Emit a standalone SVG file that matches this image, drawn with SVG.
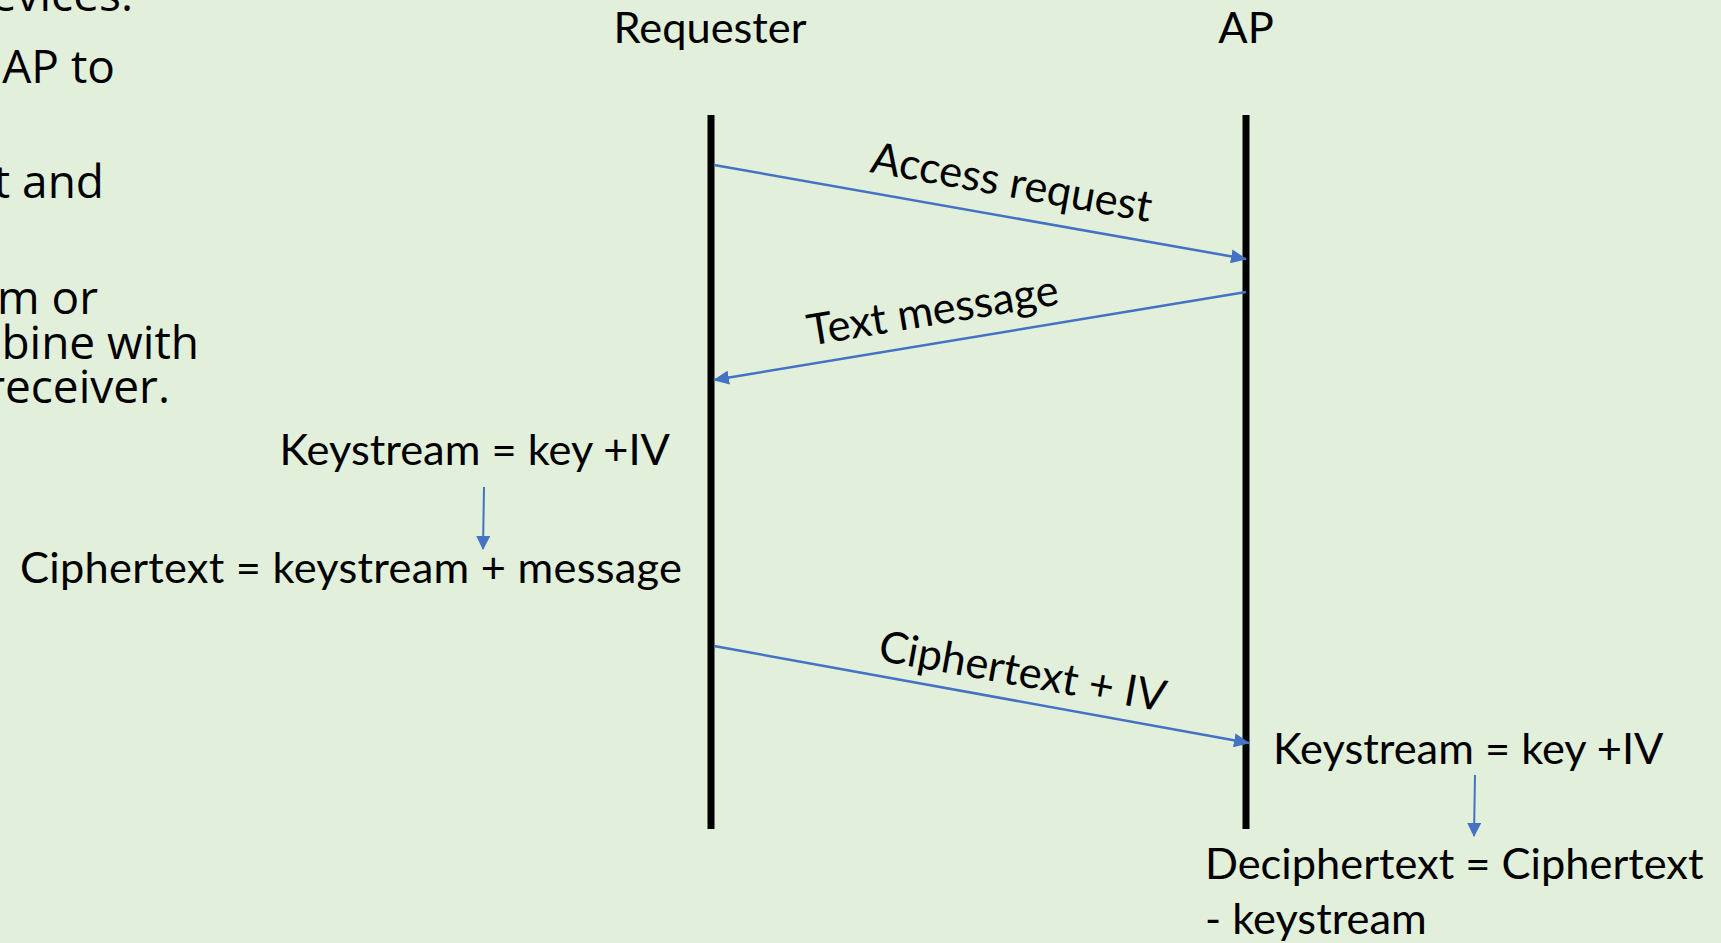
<svg xmlns="http://www.w3.org/2000/svg" width="1721" height="943" viewBox="0 0 1721 943">
  <defs>
    <marker id="arrow" markerUnits="userSpaceOnUse" markerWidth="16" markerHeight="14" viewBox="0 0 16 14" refX="15" refY="7" orient="auto">
      <path d="M0,0 L16,7 L0,14 Z" fill="#4472C4"/>
    </marker>
    <marker id="arrow-sm" markerUnits="userSpaceOnUse" markerWidth="14" markerHeight="14" viewBox="0 0 14 14" refX="13" refY="7" orient="auto">
      <path d="M0,0 L14,7 L0,14 Z" fill="#4472C4"/>
    </marker>
  </defs>
  <style>
    .bg { fill: #E2EFDA; }
    .side { font-family: "Open Sans", "Noto Sans", sans-serif; font-size: 46px; fill: #000; }
    .lbl { font-family: Lato, "Liberation Sans", sans-serif; font-size: 43.4px; fill: #000; }
    .life { stroke: #000; stroke-width: 7; }
    .msg { stroke: #4472C4; stroke-width: 2.5; fill: none; }
    .step { stroke: #4472C4; stroke-width: 2; fill: none; }
  </style>

  <rect class="bg" x="0" y="0" width="1721" height="943"/>

  <!-- bullet text running in from the left edge -->
  <g id="side-text" class="side" text-anchor="end">
    <text x="133" y="11">evices.</text>
    <text x="115" y="83">AP to</text>
    <text x="104" y="198">t and</text>
    <text x="98" y="314">m or</text>
    <text x="199" y="359">bine with</text>
    <text x="170" y="403">receiver.</text>
  </g>

  <!-- participants -->
  <g id="requester">
    <text class="lbl" x="710" y="43" text-anchor="middle">Requester</text>
    <line class="life" x1="711" y1="115" x2="711" y2="829"/>
  </g>
  <g id="ap">
    <text class="lbl" x="1246" y="43" text-anchor="middle">AP</text>
    <line class="life" x1="1246" y1="115" x2="1246" y2="829"/>
  </g>

  <!-- local computations -->
  <g id="sender-keystream">
    <text class="lbl" x="670" y="465" text-anchor="end">Keystream = key +IV</text>
  </g>
  <g id="sender-ciphertext">
    <text class="lbl" x="20" y="583" textLength="662" lengthAdjust="spacing">Ciphertext = keystream + message</text>
  </g>
  <g id="receiver-keystream">
    <text class="lbl" x="1273" y="764">Keystream = key +IV</text>
  </g>
  <g id="receiver-deciphertext">
    <text class="lbl" x="1205" y="879">Deciphertext = Ciphertext</text>
    <text class="lbl" x="1205" y="934">- keystream</text>
  </g>

  <!-- message labels -->
  <g id="message-labels" class="lbl" text-anchor="middle">
    <text transform="translate(1009,197) rotate(10.1)">Access request</text>
    <text transform="translate(935,325) rotate(-9.4)">Text message</text>
    <text transform="translate(1020,686) rotate(10.2)">Ciphertext + IV</text>
  </g>

  <!-- connectors -->
  <g id="connectors">
    <line class="msg" x1="714" y1="165" x2="1246" y2="259" marker-end="url(#arrow)"/>
    <line class="msg" x1="1246" y1="292" x2="714" y2="380" marker-end="url(#arrow)"/>
    <line class="msg" x1="714" y1="646" x2="1249" y2="743" marker-end="url(#arrow)"/>
    <line class="step" x1="484" y1="487" x2="483" y2="549" marker-end="url(#arrow-sm)"/>
    <line class="step" x1="1475" y1="775" x2="1474" y2="836" marker-end="url(#arrow-sm)"/>
  </g>
</svg>
